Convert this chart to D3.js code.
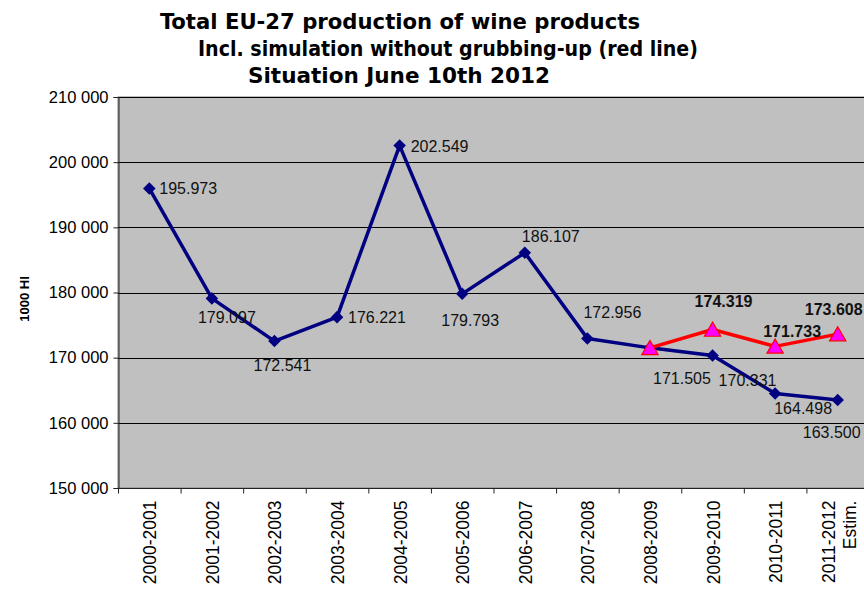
<!DOCTYPE html>
<html>
<head>
<meta charset="utf-8">
<script src="https://cdn.jsdelivr.net/npm/d3@7"></script>
<style>
  body { margin: 0; background: #fff; overflow: hidden; }
  svg { display: block; }
</style>
</head>
<body>
<div class="visualization"></div>
<script>
// seasons on the x axis
const seasons = ["2000-2001", "2001-2002", "2002-2003", "2003-2004", "2004-2005", "2005-2006",
                 "2006-2007", "2007-2008", "2008-2009", "2009-2010", "2010-2011", "2011-2012"];
// total production, 1000 hl
const production = [195973, 179097, 172541, 176221, 202549, 179793,
                     186107, 172956, 171505, 170331, 164498, 163500];
// simulation without grubbing-up (red line), from 2008-2009
const simSeasons = ["2008-2009", "2009-2010", "2010-2011", "2011-2012"];
const simulation = [171505, 174319, 171733, 173608];
const simShowLabel = [false, true, true, true];
const yTicks = [150000, 160000, 170000, 180000, 190000, 200000, 210000];

// label placement (style only): dx, dy from the marker
const prodLabelPos = [[10, 6], [15, 25], [8, 30], [11, 6], [11, 6], [8, 32],
                      [26, -11], [25, -20], [32, 36], [35, 30], [28, 20], [-6, 38]];
const simLabelPos = [[0, 0], [11, -23], [17, -9], [-4, -19]];

const W = 864, H = 591;
const margin = { left: 118, top: 97, right: W - 869, bottom: H - 488 };
const font = "Arial, 'Liberation Sans', sans-serif";

const svg = d3.select(".visualization").append("svg")
  .attr("width", W).attr("height", H);

const x = d3.scaleBand().domain(seasons).range([margin.left, 869]);
const y = d3.scaleLinear().domain([150000, 210000]).range([488, 97]);
const cx = d => x(d) + x.bandwidth() / 2;

// title
const titleLines = [
  { t: "Total EU-27 production of wine products", x: 160, y: 29, w: 480 },
  { t: "Incl. simulation without grubbing-up (red line)", x: 198, y: 56, w: 500 },
  { t: "Situation June 10th 2012", x: 248, y: 83, w: 302 }
];
svg.append("g").selectAll("text").data(titleLines).join("text")
  .attr("x", d => d.x).attr("y", d => d.y)
  .attr("textLength", d => d.w).attr("lengthAdjust", "spacingAndGlyphs")
  .style("font-family", "'DejaVu Sans Condensed', 'DejaVu Sans', sans-serif")
  .style("font-weight", "bold").style("font-size", "21px")
  .text(d => d.t);

// plot area
svg.append("rect")
  .attr("x", margin.left).attr("y", 97)
  .attr("width", 869 - margin.left).attr("height", 488 - 97)
  .attr("fill", "#c0c0c0").attr("stroke", "#808080").attr("stroke-width", 1);

svg.append("g").selectAll("line").data(yTicks.slice(1)).join("line")
  .attr("x1", margin.left).attr("x2", 869)
  .attr("y1", d => Math.round(y(d)) + 0.5).attr("y2", d => Math.round(y(d)) + 0.5)
  .attr("stroke", "#000").attr("stroke-width", 1);

// y axis
const yAxis = svg.append("g").attr("transform", `translate(${margin.left + 0.5},0)`)
  .call(d3.axisLeft(y).tickValues(yTicks).tickSize(5).tickPadding(5)
    .tickFormat(d => d3.format(",")(d).replace(",", " ")));
yAxis.selectAll("text").style("font-family", font)
  .style("font-size", "16.5px").attr("fill", "#000");
yAxis.selectAll("line, path").attr("stroke", "#222");

svg.append("text")
  .attr("transform", "translate(29,299) rotate(-90)")
  .attr("text-anchor", "middle")
  .style("font-family", font)
  .style("font-weight", "bold").style("font-size", "13px")
  .text("1000 Hl");

// x axis
const xAxisG = svg.append("g").attr("transform", "translate(0,488.5)");
xAxisG.append("line").attr("x1", margin.left).attr("x2", 869).attr("stroke", "#222");
xAxisG.selectAll("line.tick").data(seasons.concat(["end"])).join("line")
  .attr("class", "tick")
  .attr("x1", (d, i) => margin.left + i * x.step() + 0.5)
  .attr("x2", (d, i) => margin.left + i * x.step() + 0.5)
  .attr("y1", 0).attr("y2", 5).attr("stroke", "#222");
const xl = xAxisG.selectAll("text").data(seasons).join("text")
  .attr("transform", d => `translate(${cx(d) + 7},12) rotate(-90)`)
  .attr("text-anchor", "end")
  .style("font-family", font)
  .style("font-size", "17.5px");
xl.append("tspan").attr("x", 0).text(d => d);
xl.filter((d, i) => i === seasons.length - 1)
  .attr("transform", d => `translate(${cx(d) - 3},12) rotate(-90)`)
  .append("tspan").attr("x", 0).attr("dy", 21).text("Estim.");

// production line
const line = d3.line().x(d => cx(d.s)).y(d => y(d.v));
const prod = seasons.map((s, i) => ({ s, v: production[i] }));
const sim = simSeasons.map((s, i) => ({ s, v: simulation[i] }));

svg.append("path").datum(prod).attr("d", line)
  .attr("fill", "none").attr("stroke", "#000080").attr("stroke-width", 3.5)
  .attr("stroke-linejoin", "round");
svg.append("g").selectAll("path").data(prod).join("path")
  .attr("transform", d => `translate(${cx(d.s)},${y(d.v)})`)
  .attr("d", d3.symbol(d3.symbolDiamond2, 100))
  .attr("fill", "#000080");

// simulation line
svg.append("path").datum(sim).attr("d", line)
  .attr("fill", "none").attr("stroke", "#ff0000").attr("stroke-width", 3.5)
  .attr("stroke-linejoin", "round");
svg.append("g").selectAll("path").data(sim).join("path")
  .attr("transform", d => `translate(${cx(d.s)},${y(d.v) + 2})`)
  .attr("d", d3.symbol(d3.symbolTriangle, 115))
  .attr("fill", "#ff00ff").attr("stroke", "#ff0000").attr("stroke-width", 1.2);

// labels
const fmt = v => (v / 1000).toFixed(3);
svg.append("g").selectAll("text").data(prod).join("text")
  .attr("x", (d, i) => cx(d.s) + prodLabelPos[i][0])
  .attr("y", (d, i) => y(d.v) + prodLabelPos[i][1])
  .attr("text-anchor", (d, i) => [0, 3, 4].includes(i) ? "start" : "middle")
  .style("font-family", font)
  .style("font-size", "16px").attr("fill", "#111")
  .text(d => fmt(d.v));

svg.append("g").selectAll("text").data(sim.filter((d, i) => simShowLabel[i])).join("text")
  .attr("x", d => cx(d.s) + simLabelPos[simSeasons.indexOf(d.s)][0])
  .attr("y", d => y(d.v) + simLabelPos[simSeasons.indexOf(d.s)][1])
  .attr("text-anchor", "middle")
  .style("font-family", font)
  .style("font-weight", "bold").style("font-size", "16px").attr("fill", "#111")
  .text(d => fmt(d.v));
</script>
</body>
</html>
